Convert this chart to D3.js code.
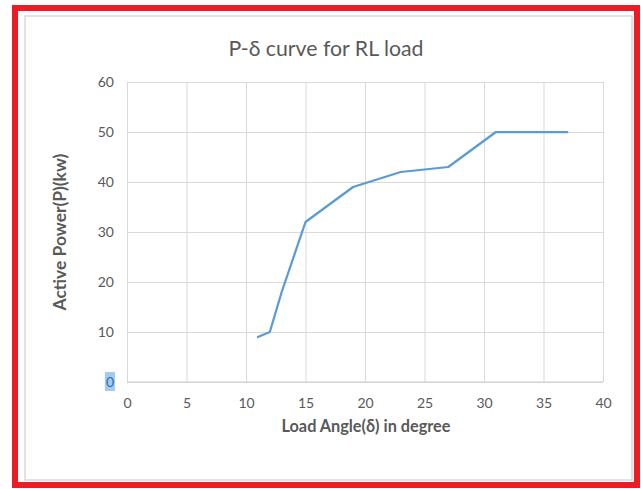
<!DOCTYPE html>
<html>
<head>
<meta charset="utf-8">
<script src="https://cdn.jsdelivr.net/npm/d3@7"></script>
<style>
  html, body { margin: 0; padding: 0; background: #fff; }
  svg { display: block; }
  text { font-family: Lato, "Open Sans", sans-serif; }
</style>
</head>
<body>
<script>
// ---- data ----
const loadAngle = [11, 12, 13, 15, 19, 23, 27, 31, 37];
const activePower = [9, 10, 18, 32, 39, 42, 43, 50, 50];
const xTicks = [0, 5, 10, 15, 20, 25, 30, 35, 40];
const yTicks = [0, 10, 20, 30, 40, 50, 60];
const chartTitle = "P-δ curve for RL load";
const xTitle = "Load Angle(δ) in degree";
const yTitle = "Active Power(P)(kw)";

const W = 641, H = 489;
const svg = d3.select("body").append("svg").attr("width", W).attr("height", H);

// outer red frame and inner chart-area border
svg.append("rect").attr("x", 15).attr("y", 8).attr("width", 622).attr("height", 477)
  .attr("fill", "#fff").attr("stroke", "#ed1c24").attr("stroke-width", 6);
svg.append("rect").attr("x", 25).attr("y", 16).attr("width", 607).attr("height", 464)
  .attr("fill", "#fff").attr("stroke", "#d9d9d9").attr("stroke-width", 1.5);

const x = d3.scaleLinear().domain([0, 40]).range([127, 603]);
const y = d3.scaleLinear().domain([0, 60]).range([382, 82]);

// gridlines
const gx = svg.append("g").attr("transform", `translate(0,${y(0)})`)
  .call(d3.axisBottom(x).tickValues(xTicks).tickSize(-(y(0) - y(60))).tickFormat(""));
gx.select(".domain").remove();
gx.selectAll("line").attr("stroke", "#d9d9d9").attr("stroke-width", 1);

const gy = svg.append("g").attr("transform", `translate(${x(0)},0)`)
  .call(d3.axisLeft(y).tickValues(yTicks).tickSize(-(x(40) - x(0))).tickFormat(""));
gy.select(".domain").remove();
gy.selectAll("line").attr("stroke", "#d9d9d9").attr("stroke-width", 1);

// x axis line
svg.append("line").attr("x1", x(0)).attr("x2", x(40)).attr("y1", y(0)).attr("y2", y(0))
  .attr("stroke", "#d0d0d0").attr("stroke-width", 1.2);

// tick labels
const xl = svg.append("g").attr("transform", `translate(0,${y(0)})`)
  .call(d3.axisBottom(x).tickValues(xTicks).tickSize(0).tickPadding(0));
xl.select(".domain").remove();
xl.selectAll("text").attr("font-family", "Lato, 'Open Sans', sans-serif")
  .attr("font-size", 14).attr("fill", "#595959").attr("dy", null).attr("y", 26);

const yl = svg.append("g").attr("transform", `translate(${x(0)},0)`)
  .call(d3.axisLeft(y).tickValues(yTicks).tickSize(0).tickPadding(13));
yl.select(".domain").remove();
yl.selectAll("text").attr("font-family", "Lato, 'Open Sans', sans-serif")
  .attr("font-size", 14).attr("fill", "#595959");
// selection highlight behind the "0" label
yl.selectAll(".tick").filter(d => d === 0).each(function() {
  const t = d3.select(this).select("text");
  const bb = t.node().getBBox();
  d3.select(this).insert("rect", "text")
    .attr("x", bb.x - 1).attr("y", bb.y - 1).attr("width", bb.width + 2).attr("height", bb.height + 2)
    .attr("fill", "#a4cbef");
  t.attr("fill", "#2e6cb5");
});

// line
svg.append("path")
  .datum(loadAngle.map((d, i) => [d, activePower[i]]))
  .attr("fill", "none").attr("stroke", "#5b9bd5").attr("stroke-width", 2.25)
  .attr("stroke-linejoin", "round").attr("stroke-linecap", "round")
  .attr("d", d3.line().x(d => x(d[0])).y(d => y(d[1])));

// fit a text element's font size to a target width
function fit(sel, target) {
  const fs = +sel.attr("font-size");
  const w = sel.node().getComputedTextLength();
  if (w > 0) sel.attr("font-size", (fs * target / w).toFixed(2));
  return sel;
}

// titles
fit(svg.append("text").attr("x", 326).attr("y", 56).attr("text-anchor", "middle")
  .attr("font-size", 20).attr("fill", "#595959").text(chartTitle), 195);
fit(svg.append("text").attr("x", 366).attr("y", 432).attr("text-anchor", "middle")
  .attr("font-size", 13.5).attr("font-weight", "bold").attr("fill", "#595959").text(xTitle), 169);
fit(svg.append("text").attr("transform", `translate(66,232) rotate(-90)`).attr("text-anchor", "middle")
  .attr("font-size", 13.5).attr("font-weight", "bold").attr("fill", "#595959").text(yTitle), 157);
</script>
</body>
</html>
